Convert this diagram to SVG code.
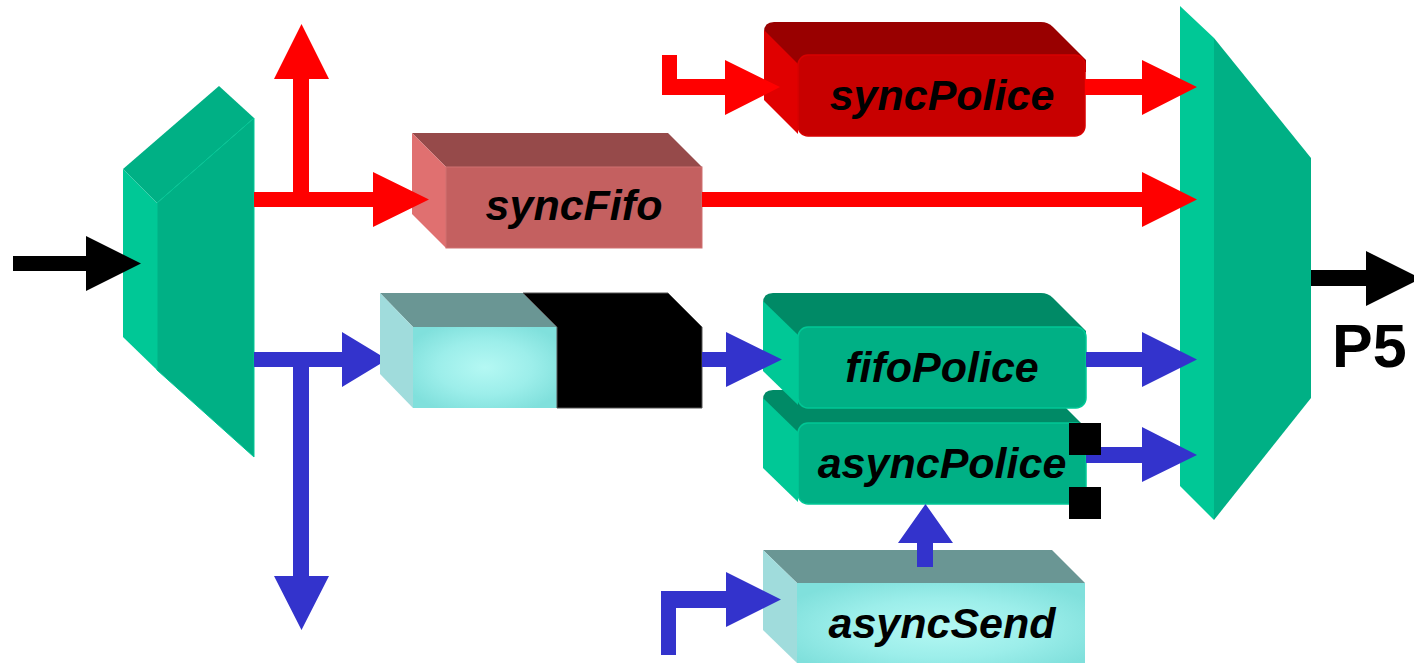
<svg xmlns="http://www.w3.org/2000/svg" width="1414" height="663" viewBox="0 0 1414 663">
<defs>
<radialGradient id="cyanG" cx="0.5" cy="0.5" r="0.6">
<stop offset="0" stop-color="#B4F8F3"/>
<stop offset="0.55" stop-color="#9CEEEA"/>
<stop offset="1" stop-color="#80E0DC"/>
</radialGradient>
<style>
.lbl{font-family:"Liberation Sans",Arial,sans-serif;font-weight:bold;font-style:italic;font-size:43px;fill:#000;text-anchor:middle}
.p5{font-family:"Liberation Sans",Arial,sans-serif;font-weight:bold;font-size:61px;fill:#000}
.muxL{fill:#00C896}
.muxF{fill:#00B085}
.gTop{fill:#008A66}
.gLeft{fill:#00C896}
.gFront{fill:#00B085;stroke:#00C896;stroke-width:1.5}
.rTop{fill:#990000}
.rLeft{fill:#E00000}
.rFront{fill:#C80000;stroke:#D80000;stroke-width:1.5}
.pTop{fill:#964A4A}
.pLeft{fill:#E07070}
.pFront{fill:#C46060;stroke:#D07070;stroke-width:1}
.cTop{fill:#6A9694}
.cLeft{fill:#A0DCDC}
.cFront{fill:url(#cyanG)}
.red{fill:#FF0000}
.blue{fill:#3333CC}
.blk{fill:#000}
</style>
</defs>

<g id="muxIn">
<polygon class="muxF" points="123,169 219,86 254,118 157,203"/>
<polygon class="muxL" points="123,169 157,203 157,370 123,337"/>
<polygon class="muxF" points="157,203 254,118 254,457 157,370" stroke="#00C896" stroke-width="1"/>
</g>

<g id="muxOut">
<polygon class="muxL" points="1180,6 1214,38 1214,520 1180,486"/>
<polygon class="muxF" points="1214,38 1311,158 1311,398 1214,520"/>
</g>

<g id="syncPolice">
<path class="rTop" d="M774,22 H1041 Q1048,22 1053,27 L1086,60 V72 H798 L764,38 V32 Q764,22 774,22 Z"/>
<path class="rLeft" d="M764,30 L798,64 V134 L764,100 Z"/>
<rect class="rFront" x="798" y="55" width="287" height="81" rx="10"/>
<text class="lbl" x="942" y="110">syncPolice</text>
</g>

<g id="syncFifo">
<polygon class="pTop" points="412,133 668,133 702,167 446,167"/>
<polygon class="pLeft" points="412,133 446,167 446,248 412,214"/>
<rect class="pFront" x="446" y="167" width="256" height="81"/>
<text class="lbl" x="574" y="220">syncFifo</text>
</g>

<g id="fifo">
<polygon class="cTop" points="380,293 523,293 557,327 413,327"/>
<polygon class="cLeft" points="380,293 413,327 413,408 380,374"/>
<rect class="cFront" x="413" y="327" width="144" height="81"/>
<polygon class="blk" points="523,293 668,293 702,327 702,408 557,408 557,327" stroke="#555" stroke-width="1"/>
</g>

<g id="asyncPolice">
<path class="gTop" d="M773,390 H1041 Q1048,390 1053,395 L1086,428 V440 H798 L763,406 V400 Q763,390 773,390 Z"/>
<path class="gLeft" d="M763,398 L798,432 V502 L763,468 Z"/>
<rect class="gFront" x="798" y="423" width="288" height="81" rx="10"/>
<text class="lbl" x="942" y="478">asyncPolice</text>
</g>

<g id="fifoPolice">
<path class="gTop" d="M773,293 H1041 Q1048,293 1053,298 L1086,331 V343 H798 L763,309 V303 Q763,293 773,293 Z"/>
<path class="gLeft" d="M763,301 L798,335 V405 L763,371 Z"/>
<rect class="gFront" x="798" y="327" width="288" height="81" rx="10"/>
<text class="lbl" x="942" y="382">fifoPolice</text>
</g>

<g id="asyncSend">
<polygon class="cTop" points="763,550 1052,550 1085,583 797,583"/>
<polygon class="cLeft" points="763,550 797,583 797,663 763,630"/>
<rect class="cFront" x="797" y="583" width="288" height="90"/>
<text class="lbl" x="942" y="638">asyncSend</text>
</g>

<g id="connectors">
<polygon class="blk" points="13,256 86,256 86,236 141,263.5 86,291 86,271 13,271"/>
<polygon class="red" points="254,192 373,192 373,172 429,199.5 373,227 373,207 254,207"/>
<polygon class="red" points="293,192 293,79 274,79 301.5,24 329,79 309,79 309,192"/>
<polygon class="red" points="702,192 1142,192 1142,172 1197,199.5 1142,227 1142,207 702,207"/>
<polygon class="red" points="1085,79 1142,79 1142,60 1197,87 1142,115 1142,95 1085,95"/>
<polygon class="red" points="662,55 677,55 677,79 725,79 725,60 780,87 725,115 725,95 662,95"/>
<polygon class="blue" points="254,352 342,352 342,332 380,355 380,364 342,387 342,367 254,367"/>
<polygon class="blue" points="293,360 309,360 309,576 329,576 301.5,630 274,576 293,576"/>
<polygon class="blue" points="702,352 726,352 726,332 782,359.5 726,387 726,367 702,367"/>
<polygon class="blue" points="1086,352 1142,352 1142,332 1197,359.5 1142,387 1142,367 1086,367"/>
<polygon class="blue" points="1086,447 1142,447 1142,427 1197,455 1142,482 1142,463 1086,463"/>
<polygon class="blue" points="917,567 917,543 898,543 925.5,504 953,543 933,543 933,567"/>
<polygon class="blue" points="661,655 661,591 726,591 726,572 781,599.5 726,627 726,608 676,608 676,655"/>
<polygon class="blk" points="1311,270 1366,270 1366,251 1421,278.5 1366,306 1366,286 1311,286"/>
</g>

<g id="ports">
<rect class="blk" x="1069" y="423" width="32" height="32"/>
<rect class="blk" x="1069" y="487" width="32" height="32"/>
</g>

<text class="p5" x="1332" y="367">P5</text>
</svg>
